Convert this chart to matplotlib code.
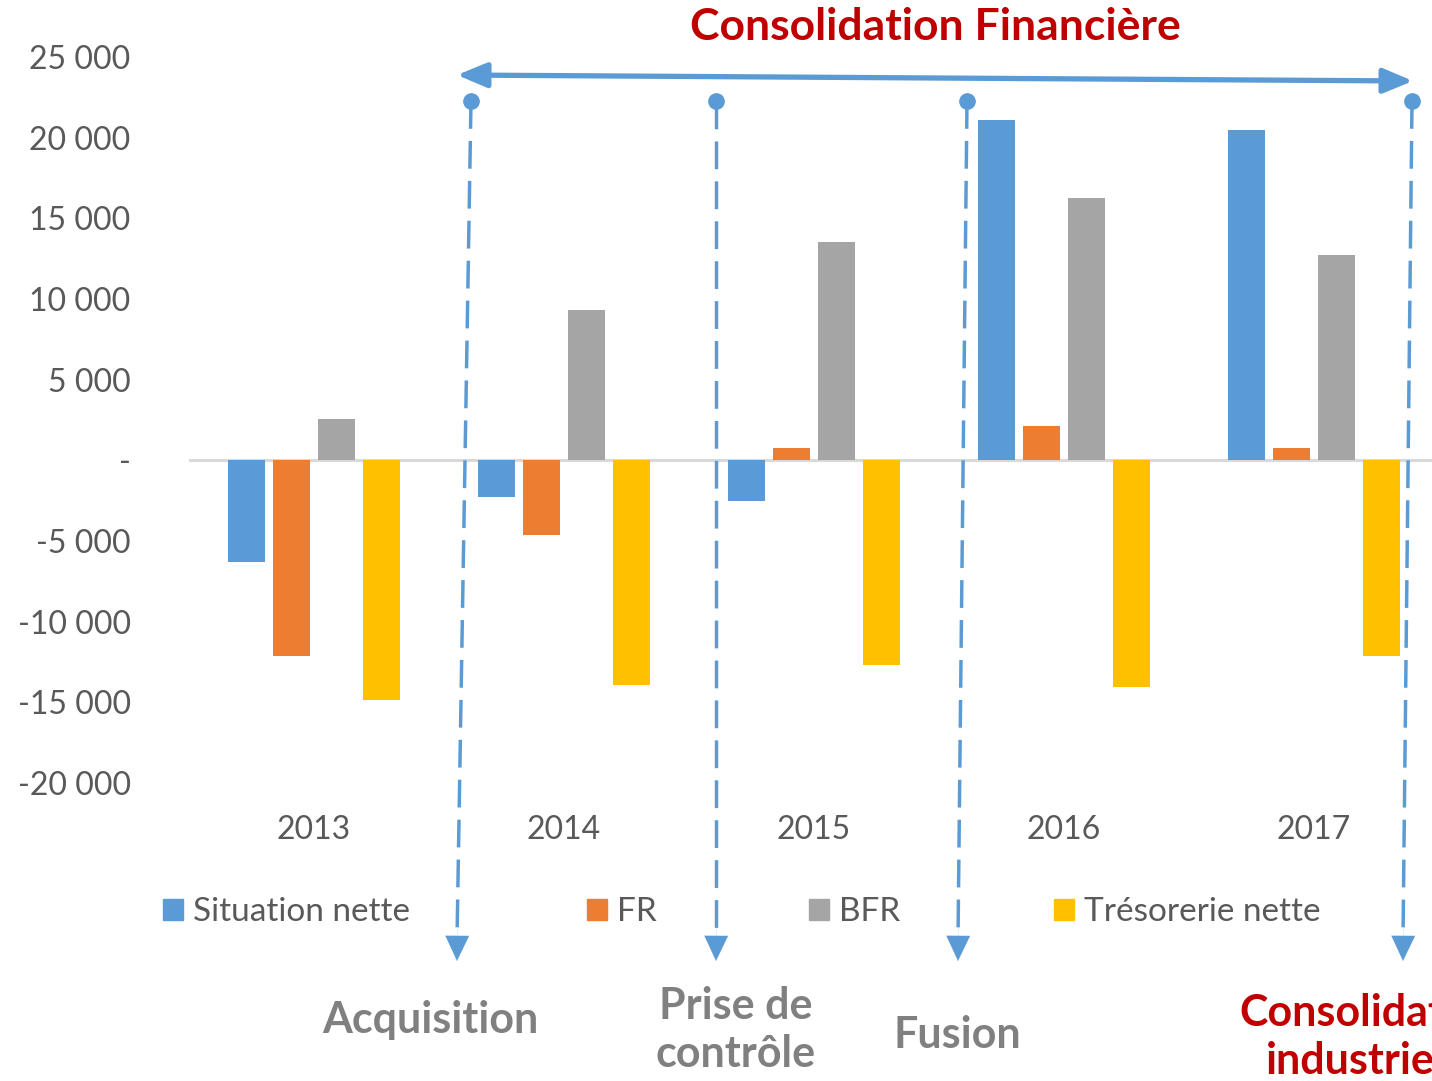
import numpy as np
import matplotlib
matplotlib.use("Agg")
import matplotlib.pyplot as plt
from matplotlib.patches import Patch
from matplotlib.ticker import FuncFormatter

plt.rcParams["font.family"] = ["Lato", "DejaVu Sans"]

years = ["2013", "2014", "2015", "2016", "2017"]
situation_nette = [-6300, -2300, -2500, 21100, 20500]
fr = [-12100, -4600, 750, 2100, 750]
bfr = [2550, 9300, 13550, 16250, 12750]
tresorerie = [-14850, -13900, -12700, -14050, -12100]

series = [
    ("Situation nette", situation_nette, "#5b9bd5"),
    ("FR", fr, "#ed7d31"),
    ("BFR", bfr, "#a5a5a5"),
    ("Trésorerie nette", tresorerie, "#ffc000"),
]
# left edge (pixels) of each legend entry, as laid out in the original
legend_x = [163, 587, 809, 1054]

# milestones: (x top, x bottom, label, colour, label x, label y)
milestones = [
    (471, 457, "Acquisition", "#808080", 430, 1020),
    (716, 716, "Prise de\ncontrôle", "#808080", 736, 1030),
    (967, 958, "Fusion", "#808080", 957, 1035),
    (1412, 1403, "Consolidation\nindustrielle", "#c00000", 1372, 1037),
]

W, H = 1432, 1081
fig = plt.figure(figsize=(W / 100, H / 100), dpi=100)

# ---------------- bar chart ----------------
left, right = 189 / W, 1439 / W
bottom, top = 1 - 783 / H, 1 - 57 / H
ax = fig.add_axes([left, bottom, right - left, top - bottom])

x = np.arange(len(years))
step = 0.18
width = 0.145
for i, (name, vals, color) in enumerate(series):
    ax.bar(x + (i - 1.5) * step, vals, width, color=color, label=name, zorder=2)

ax.set_xlim(-0.5, len(years) - 0.5)
ax.set_ylim(-20000, 25000)
ax.set_yticks(np.arange(-20000, 25001, 5000))


def fmt(v, pos):
    if v == 0:
        return "-"
    return f"{int(v):,}".replace(",", " ")


ax.yaxis.set_major_formatter(FuncFormatter(fmt))
ax.set_xticks(x)
ax.set_xticklabels(years)
ax.tick_params(axis="y", length=0, pad=42, labelsize=23, labelcolor="#595959")
ax.tick_params(axis="x", length=0, pad=23, labelsize=23, labelcolor="#595959")
for s in ax.spines.values():
    s.set_visible(False)
ax.axhline(0, color="#d9d9d9", lw=2.2, zorder=1)

# legend entries placed one by one, like the spread-out original
for (name, _, color), lx in zip(series, legend_x):
    fig.legend(
        handles=[Patch(color=color, label=name)],
        loc="center left",
        bbox_to_anchor=(lx / W, 1 - 912 / H),
        frameon=False,
        fontsize=24,
        labelcolor="#595959",
        handlelength=0.6,
        handleheight=0.6,
        handletextpad=0.3,
        borderpad=0,
        borderaxespad=0,
    )

# ---------------- annotation overlay (pixel coords) ----------------
ov = fig.add_axes([0, 0, 1, 1], zorder=5)
ov.set_xlim(0, W)
ov.set_ylim(H, 0)
ov.axis("off")
ov.patch.set_alpha(0)

blue = "#5b9bd5"
for xt, xb, label, col, lx, ly in milestones:
    ov.plot([xt, xb], [101, 940], color=blue, lw=2.5, dashes=(8, 3.5))
    ov.plot(xt, 101, "o", color=blue, ms=11)
    ov.annotate("", xy=(xb, 961), xytext=(xb + 0.3, 925),
                arrowprops=dict(arrowstyle="-|>,head_length=1.8,head_width=0.85",
                                color=blue, lw=0.1, shrinkA=0, shrinkB=0))
    ov.text(lx, ly, label, color=col, fontsize=31, fontweight="bold",
            ha="center", va="center", linespacing=1.25)

ov.annotate("", xy=(457, 75), xytext=(1413, 81),
            arrowprops=dict(arrowstyle="<|-|>,head_length=1.8,head_width=0.75",
                            color=blue, lw=3.8, shrinkA=0, shrinkB=0))
ov.text(935, 27, "Consolidation Financière", color="#c00000", fontsize=32,
        fontweight="bold", ha="center", va="center")

fig.savefig("out.png", dpi=100)
